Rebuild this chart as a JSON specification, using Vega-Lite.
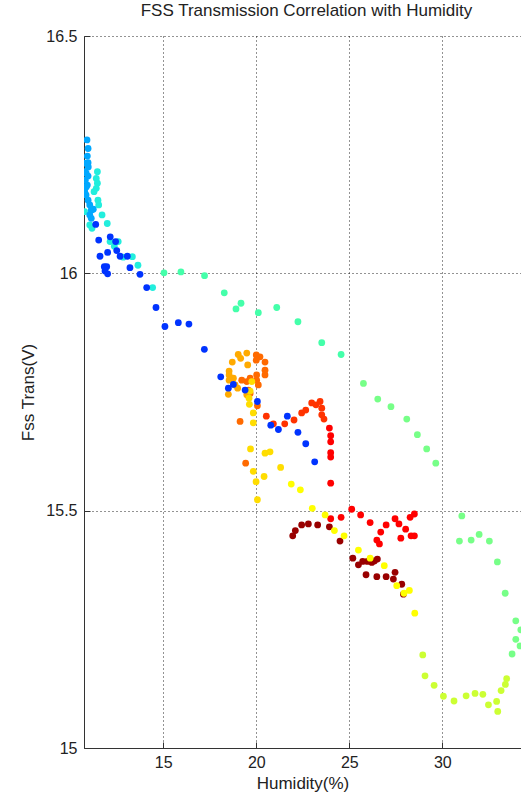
{
  "$schema": "https://vega.github.io/schema/vega-lite/v6.json",
  "width": 437,
  "height": 712,
  "autosize": {"type": "none"},
  "padding": {"left": 84, "top": 36, "right": 0, "bottom": 48},
  "background": "white",
  "config": {
    "view": {"stroke": null},
    "font": "Liberation Sans",
    "axis": {
      "domainColor": "#333333",
      "domainWidth": 1,
      "tickColor": "#333333",
      "tickSize": -6,
      "labelColor": "#222222",
      "labelFontSize": 16,
      "labelFont": "Liberation Sans",
      "titleFont": "Liberation Sans",
      "titleFontWeight": "normal",
      "titleFontSize": 17,
      "titleColor": "#222222",
      "gridColor": "#000000",
      "gridDash": [1, 3],
      "gridOpacity": 0.85,
      "gridWidth": 1
    }
  },
  "title": {
    "text": "FSS Transmission Correlation with Humidity",
    "fontSize": 17,
    "fontWeight": "normal",
    "font": "Liberation Sans",
    "color": "#222222",
    "anchor": "middle",
    "dx": 4,
    "offset": 8
  },
  "data": {
    "values": [
      {"x": 21.96, "y": 15.447, "g": "dr"}, {"x": 22.10, "y": 15.458, "g": "dr"}, {"x": 22.44, "y": 15.470, "g": "dr"},
      {"x": 22.80, "y": 15.472, "g": "dr"}, {"x": 23.30, "y": 15.470, "g": "dr"}, {"x": 23.93, "y": 15.466, "g": "dr"},
      {"x": 24.50, "y": 15.436, "g": "dr"}, {"x": 25.19, "y": 15.400, "g": "dr"}, {"x": 25.49, "y": 15.386, "g": "dr"},
      {"x": 25.72, "y": 15.393, "g": "dr"}, {"x": 25.97, "y": 15.393, "g": "dr"}, {"x": 26.21, "y": 15.391, "g": "dr"},
      {"x": 26.35, "y": 15.394, "g": "dr"}, {"x": 26.51, "y": 15.398, "g": "dr"}, {"x": 25.90, "y": 15.365, "g": "dr"},
      {"x": 26.48, "y": 15.361, "g": "dr"}, {"x": 26.98, "y": 15.361, "g": "dr"}, {"x": 27.37, "y": 15.356, "g": "dr"},
      {"x": 27.46, "y": 15.370, "g": "dr"}, {"x": 27.82, "y": 15.345, "g": "dr"}, {"x": 27.91, "y": 15.324, "g": "dr"},

      {"x": 23.93, "y": 15.674, "g": "rd"}, {"x": 24.00, "y": 15.658, "g": "rd"}, {"x": 24.00, "y": 15.645, "g": "rd"},
      {"x": 24.00, "y": 15.622, "g": "rd"}, {"x": 24.00, "y": 15.613, "g": "rd"}, {"x": 24.00, "y": 15.558, "g": "rd"},
      {"x": 25.13, "y": 15.503, "g": "rd"}, {"x": 25.61, "y": 15.491, "g": "rd"}, {"x": 24.56, "y": 15.486, "g": "rd"},
      {"x": 24.00, "y": 15.483, "g": "rd"}, {"x": 26.12, "y": 15.475, "g": "rd"}, {"x": 26.98, "y": 15.470, "g": "rd"},
      {"x": 27.46, "y": 15.483, "g": "rd"}, {"x": 27.67, "y": 15.472, "g": "rd"}, {"x": 28.03, "y": 15.461, "g": "rd"},
      {"x": 26.69, "y": 15.455, "g": "rd"}, {"x": 26.48, "y": 15.438, "g": "rd"}, {"x": 26.62, "y": 15.430, "g": "rd"},
      {"x": 27.77, "y": 15.442, "g": "rd"}, {"x": 28.32, "y": 15.447, "g": "rd"}, {"x": 28.50, "y": 15.447, "g": "rd"},
      {"x": 28.27, "y": 15.486, "g": "rd"}, {"x": 28.50, "y": 15.493, "g": "rd"},

      {"x": 20.54, "y": 15.699, "g": "ro"}, {"x": 20.92, "y": 15.683, "g": "ro"}, {"x": 21.53, "y": 15.683, "g": "ro"},
      {"x": 22.03, "y": 15.691, "g": "ro"}, {"x": 22.44, "y": 15.706, "g": "ro"}, {"x": 22.66, "y": 15.712, "g": "ro"},
      {"x": 22.98, "y": 15.727, "g": "ro"}, {"x": 23.21, "y": 15.723, "g": "ro"}, {"x": 23.43, "y": 15.730, "g": "ro"},
      {"x": 23.52, "y": 15.716, "g": "ro"}, {"x": 23.52, "y": 15.702, "g": "ro"}, {"x": 23.64, "y": 15.693, "g": "ro"},

      {"x": 19.13, "y": 15.688, "g": "do"}, {"x": 19.43, "y": 15.600, "g": "do"}, {"x": 20.00, "y": 15.828, "g": "do"},
      {"x": 20.20, "y": 15.824, "g": "do"}, {"x": 20.47, "y": 15.813, "g": "do"}, {"x": 20.47, "y": 15.796, "g": "do"},
      {"x": 20.47, "y": 15.786, "g": "do"}, {"x": 20.02, "y": 15.786, "g": "do"}, {"x": 19.22, "y": 15.775, "g": "do"},
      {"x": 19.49, "y": 15.772, "g": "do"}, {"x": 19.67, "y": 15.779, "g": "do"}, {"x": 20.02, "y": 15.775, "g": "do"},
      {"x": 20.11, "y": 15.765, "g": "do"}, {"x": 19.58, "y": 15.754, "g": "do"}, {"x": 19.67, "y": 15.747, "g": "do"},
      {"x": 20.06, "y": 15.721, "g": "do"}, {"x": 20.00, "y": 15.817, "g": "do"},

      {"x": 19.03, "y": 15.829, "g": "or"}, {"x": 19.49, "y": 15.832, "g": "or"}, {"x": 19.16, "y": 15.821, "g": "or"},
      {"x": 18.71, "y": 15.813, "g": "or"}, {"x": 19.54, "y": 15.807, "g": "or"}, {"x": 18.54, "y": 15.794, "g": "or"},
      {"x": 18.54, "y": 15.786, "g": "or"}, {"x": 18.77, "y": 15.779, "g": "or"}, {"x": 18.54, "y": 15.775, "g": "or"},
      {"x": 18.50, "y": 15.745, "g": "or"}, {"x": 19.00, "y": 15.758, "g": "or"}, {"x": 19.49, "y": 15.744, "g": "or"},
      {"x": 18.86, "y": 15.765, "g": "or"},

      {"x": 21.31, "y": 15.591, "g": "go"}, {"x": 20.42, "y": 15.572, "g": "go"}, {"x": 19.99, "y": 15.561, "g": "go"},
      {"x": 20.06, "y": 15.523, "g": "go"}, {"x": 19.84, "y": 15.583, "g": "go"}, {"x": 20.47, "y": 15.621, "g": "go"},
      {"x": 20.74, "y": 15.624, "g": "go"}, {"x": 19.69, "y": 15.630, "g": "go"}, {"x": 19.84, "y": 15.685, "g": "go"},
      {"x": 19.84, "y": 15.706, "g": "go"}, {"x": 19.63, "y": 15.724, "g": "go"}, {"x": 19.61, "y": 15.737, "g": "go"},
      {"x": 19.67, "y": 15.752, "g": "go"}, {"x": 19.76, "y": 15.772, "g": "go"},

      {"x": 28.52, "y": 15.284, "g": "ye"}, {"x": 28.23, "y": 15.332, "g": "ye"}, {"x": 27.94, "y": 15.326, "g": "ye"},
      {"x": 27.55, "y": 15.342, "g": "ye"}, {"x": 26.88, "y": 15.384, "g": "ye"}, {"x": 26.12, "y": 15.400, "g": "ye"},
      {"x": 25.49, "y": 15.417, "g": "ye"}, {"x": 24.72, "y": 15.447, "g": "ye"}, {"x": 24.20, "y": 15.458, "g": "ye"},
      {"x": 23.70, "y": 15.491, "g": "ye"}, {"x": 23.01, "y": 15.505, "g": "ye"}, {"x": 22.37, "y": 15.544, "g": "ye"},
      {"x": 21.88, "y": 15.556, "g": "ye"},

      {"x": 33.46, "y": 15.146, "g": "yg"}, {"x": 33.39, "y": 15.134, "g": "yg"}, {"x": 33.16, "y": 15.121, "g": "yg"},
      {"x": 32.98, "y": 15.077, "g": "yg"}, {"x": 32.92, "y": 15.098, "g": "yg"}, {"x": 32.48, "y": 15.091, "g": "yg"},
      {"x": 32.18, "y": 15.113, "g": "yg"}, {"x": 31.76, "y": 15.115, "g": "yg"}, {"x": 31.28, "y": 15.110, "g": "yg"},
      {"x": 30.63, "y": 15.099, "g": "yg"}, {"x": 30.06, "y": 15.109, "g": "yg"}, {"x": 29.56, "y": 15.132, "g": "yg"},
      {"x": 29.07, "y": 15.152, "g": "yg"}, {"x": 28.95, "y": 15.196, "g": "yg"},

      {"x": 25.76, "y": 15.768, "g": "lg"}, {"x": 26.53, "y": 15.735, "g": "lg"}, {"x": 27.24, "y": 15.719, "g": "lg"},
      {"x": 28.09, "y": 15.693, "g": "lg"}, {"x": 28.66, "y": 15.660, "g": "lg"}, {"x": 29.16, "y": 15.630, "g": "lg"},
      {"x": 29.65, "y": 15.600, "g": "lg"}, {"x": 31.05, "y": 15.489, "g": "lg"}, {"x": 30.92, "y": 15.436, "g": "lg"},
      {"x": 31.55, "y": 15.438, "g": "lg"}, {"x": 31.98, "y": 15.450, "g": "lg"}, {"x": 32.53, "y": 15.436, "g": "lg"},
      {"x": 32.96, "y": 15.392, "g": "lg"}, {"x": 33.38, "y": 15.326, "g": "lg"}, {"x": 33.95, "y": 15.268, "g": "lg"},
      {"x": 34.22, "y": 15.249, "g": "lg"}, {"x": 33.95, "y": 15.229, "g": "lg"}, {"x": 34.18, "y": 15.215, "g": "lg"},
      {"x": 33.75, "y": 15.198, "g": "lg"},

      {"x": 15.04, "y": 16.001, "g": "aq"}, {"x": 15.95, "y": 16.003, "g": "aq"}, {"x": 17.22, "y": 15.995, "g": "aq"},
      {"x": 18.28, "y": 15.959, "g": "aq"}, {"x": 19.18, "y": 15.937, "g": "aq"}, {"x": 18.91, "y": 15.925, "g": "aq"},
      {"x": 20.11, "y": 15.917, "g": "aq"}, {"x": 21.10, "y": 15.928, "g": "aq"}, {"x": 22.24, "y": 15.898, "g": "aq"},
      {"x": 23.52, "y": 15.854, "g": "aq"}, {"x": 24.56, "y": 15.829, "g": "aq"},

      {"x": 11.46, "y": 16.214, "g": "cy"}, {"x": 11.40, "y": 16.200, "g": "cy"}, {"x": 11.46, "y": 16.190, "g": "cy"},
      {"x": 11.40, "y": 16.179, "g": "cy"}, {"x": 11.28, "y": 16.172, "g": "cy"}, {"x": 11.49, "y": 16.154, "g": "cy"},
      {"x": 11.53, "y": 16.144, "g": "cy"}, {"x": 11.71, "y": 16.123, "g": "cy"}, {"x": 11.99, "y": 16.105, "g": "cy"},
      {"x": 10.77, "y": 16.130, "g": "cy"}, {"x": 11.05, "y": 16.102, "g": "cy"}, {"x": 11.17, "y": 16.095, "g": "cy"},
      {"x": 12.14, "y": 16.067, "g": "cy"}, {"x": 12.58, "y": 16.067, "g": "cy"}, {"x": 12.37, "y": 16.057, "g": "cy"},
      {"x": 12.85, "y": 16.034, "g": "cy"}, {"x": 13.34, "y": 16.035, "g": "cy"}, {"x": 13.64, "y": 16.017, "g": "cy"},
      {"x": 14.43, "y": 15.970, "g": "cy"},

      {"x": 10.90, "y": 16.281, "g": "lb"}, {"x": 10.96, "y": 16.263, "g": "lb"}, {"x": 10.92, "y": 16.247, "g": "lb"},
      {"x": 10.81, "y": 16.232, "g": "lb"}, {"x": 10.96, "y": 16.233, "g": "lb"}, {"x": 10.77, "y": 16.214, "g": "lb"},
      {"x": 10.86, "y": 16.211, "g": "lb"}, {"x": 10.81, "y": 16.196, "g": "lb"}, {"x": 10.86, "y": 16.182, "g": "lb"},
      {"x": 10.78, "y": 16.172, "g": "lb"}, {"x": 10.96, "y": 16.154, "g": "lb"}, {"x": 11.05, "y": 16.144, "g": "lb"},
      {"x": 11.13, "y": 16.133, "g": "lb"}, {"x": 11.05, "y": 16.123, "g": "lb"}, {"x": 11.13, "y": 16.116, "g": "lb"},
      {"x": 11.24, "y": 16.135, "g": "lb"}, {"x": 10.92, "y": 16.186, "g": "lb"}, {"x": 10.97, "y": 16.224, "g": "lb"},
      {"x": 10.85, "y": 16.165, "g": "lb"}, {"x": 10.96, "y": 16.205, "g": "lb"},

      {"x": 11.37, "y": 16.103, "g": "bl"}, {"x": 11.53, "y": 16.070, "g": "bl"}, {"x": 12.15, "y": 16.077, "g": "bl"},
      {"x": 12.44, "y": 16.067, "g": "bl"}, {"x": 12.01, "y": 16.044, "g": "bl"}, {"x": 12.50, "y": 16.048, "g": "bl"},
      {"x": 12.68, "y": 16.036, "g": "bl"}, {"x": 13.07, "y": 16.036, "g": "bl"}, {"x": 11.60, "y": 16.036, "g": "bl"},
      {"x": 11.83, "y": 16.014, "g": "bl"}, {"x": 11.96, "y": 16.014, "g": "bl"}, {"x": 11.87, "y": 16.005, "g": "bl"},
      {"x": 12.01, "y": 15.999, "g": "bl"}, {"x": 13.21, "y": 16.012, "g": "bl"}, {"x": 13.75, "y": 15.998, "g": "bl"},
      {"x": 14.11, "y": 15.970, "g": "bl"}, {"x": 14.61, "y": 15.928, "g": "bl"}, {"x": 15.09, "y": 15.888, "g": "bl"},
      {"x": 15.81, "y": 15.896, "g": "bl"}, {"x": 16.38, "y": 15.893, "g": "bl"}, {"x": 17.21, "y": 15.840, "g": "bl"},
      {"x": 18.09, "y": 15.782, "g": "bl"}, {"x": 18.77, "y": 15.766, "g": "bl"}, {"x": 18.50, "y": 15.758, "g": "bl"},
      {"x": 19.40, "y": 15.754, "g": "bl"}, {"x": 20.06, "y": 15.730, "g": "bl"}, {"x": 21.67, "y": 15.699, "g": "bl"},
      {"x": 20.78, "y": 15.680, "g": "bl"}, {"x": 21.19, "y": 15.671, "g": "bl"}, {"x": 22.24, "y": 15.665, "g": "bl"},
      {"x": 22.66, "y": 15.641, "g": "bl"}, {"x": 23.14, "y": 15.603, "g": "bl"}
    ]
  },
  "mark": {"type": "point", "filled": true, "opacity": 1, "size": 46, "shape": "circle", "clip": true},
  "encoding": {
    "x": {
      "field": "x",
      "type": "quantitative",
      "scale": {"domain": [10.74, 34.23], "nice": false, "zero": false},
      "axis": {
        "title": "Humidity(%)",
        "values": [15, 20, 25, 30],
        "format": "~g",
        "labelPadding": 12,
        "titlePadding": 5
      }
    },
    "y": {
      "field": "y",
      "type": "quantitative",
      "scale": {"domain": [15, 16.5], "nice": false, "zero": false},
      "axis": {
        "title": "Fss Trans(V)",
        "values": [15, 15.5, 16, 16.5],
        "format": "~g",
        "labelPadding": 13,
        "titlePadding": 8
      }
    },
    "color": {
      "field": "g",
      "type": "nominal",
      "legend": null,
      "scale": {
        "domain": ["bl", "lb", "cy", "aq", "lg", "yg", "ye", "go", "or", "do", "ro", "rd", "dr"],
        "range": ["#0033ff", "#00a8ff", "#22eedd", "#44ffaa", "#77ff88", "#ccff33", "#ffff00", "#ffdd00", "#ffaa00", "#ff6a00", "#ff3300", "#ff0000", "#990000"]
      }
    }
  }
}
